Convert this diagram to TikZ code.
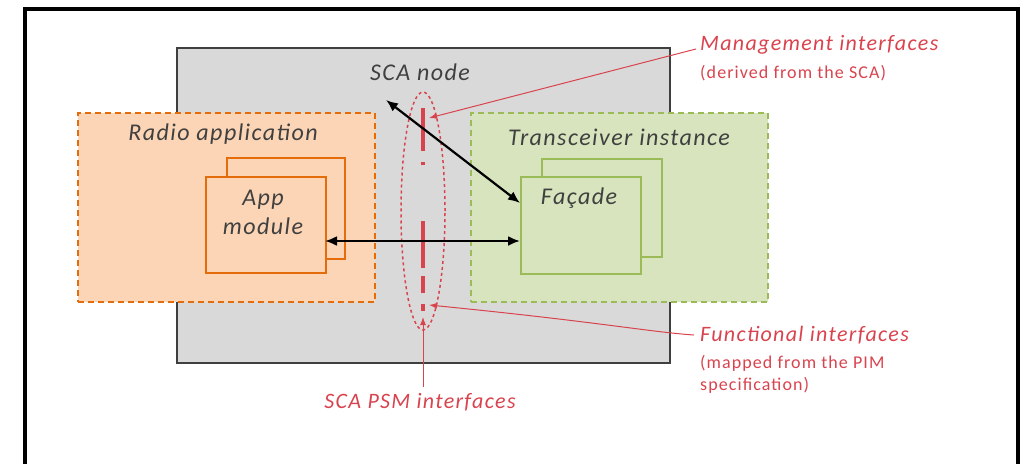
\documentclass[tikz,border=0pt]{standalone}
\usepackage{fontspec}
\setmainfont{Carlito}
\newfontfamily\labelfont[LetterSpace=6]{Carlito}
\usetikzlibrary{arrows.meta,shapes.geometric}
\definecolor{nodegray}{HTML}{D9D9D9}
\definecolor{nodeedge}{HTML}{3F3F3F}
\definecolor{appfill}{HTML}{FBD5B5}
\definecolor{appedge}{HTML}{E46C0A}
\definecolor{trxfill}{HTML}{D7E4BD}
\definecolor{trxedge}{HTML}{9BBB59}
\definecolor{note}{HTML}{D9434E}
\definecolor{ink}{HTML}{404040}
\tikzset{
  box/.style={draw, rectangle, inner sep=0pt, anchor=north west},
  groupbox/.style={box, dashed, dash pattern=on 6pt off 4pt, line width=2pt},
  modbox/.style={box, line width=1.6pt},
  title/.style={font=\labelfont\itshape\fontsize{24}{29}\selectfont, text=ink, inner sep=0pt},
  notetitle/.style={font=\labelfont\itshape\fontsize{22}{24}\selectfont, text=note, anchor=west, inner sep=0pt},
  notesub/.style={font=\labelfont\fontsize{18}{22}\selectfont, text=note, anchor=north west, inner sep=0pt, align=left},
  link/.style={line width=2.2pt, {Latex[length=12pt,width=10pt]}-{Latex[length=12pt,width=10pt]}},
  pointer/.style={draw=note, line width=1pt, -{Latex[length=8pt,width=6pt]}}
}
\begin{document}
\begin{tikzpicture}[x=1pt,y=-1pt]
\useasboundingbox (0,0) rectangle (1025,463);
% outer frame
\draw[line width=4pt] (25,9) rectangle (1018,480);
% SCA node
\node[box, fill=nodegray, draw=nodeedge, line width=2pt, minimum width=493pt, minimum height=315pt] (sca) at (176,47) {};
\node[title] (scalabel) at (420,72) {SCA node};
% radio application
\node[groupbox, fill=appfill, draw=appedge, minimum width=297pt, minimum height=189pt] (radio) at (77,112) {};
\node[title] (radiolabel) at (223,134) {Radio application};
\node[modbox, fill=appfill, draw=appedge, minimum width=118pt, minimum height=101pt] (appback) at (226,157) {};
\node[modbox, fill=appfill, draw=appedge, minimum width=120pt, minimum height=96pt] (app) at (205,176) {};
\node[title, align=center] (applabel) at (263,212) {App\\module};
% transceiver instance
\node[groupbox, fill=trxfill, draw=trxedge, minimum width=297pt, minimum height=189pt] (trx) at (470,112) {};
\node[title] (trxlabel) at (619,137) {Transceiver instance};
\node[modbox, fill=trxfill, draw=trxedge, minimum width=120pt, minimum height=98pt] (facback) at (541,158) {};
\node[modbox, fill=trxfill, draw=trxedge, minimum width=120pt, minimum height=97pt] (facade) at (520,176) {};
\node[title] (faclabel) at (579,198) {Façade};
% SCA PSM interfaces
\node[draw=note, dashed, dash pattern=on 3pt off 3pt, line width=1.5pt, ellipse, minimum width=44pt, minimum height=238pt, inner sep=0pt] (psm) at (423,211) {};
\draw[note, line width=3.5pt, dash pattern=on 43pt off 11pt on 3pt off 56pt on 47pt off 8pt on 17pt off 11pt on 7pt off 20pt] (psm.north) ++(0,17) -- ++(0,203);
% connectors
\coordinate (mgmttop) at (386,100);
\coordinate (mgmtend) at (520,203);
\draw[link] (mgmttop) -- (mgmtend);
\coordinate (funcL) at (325,241);
\coordinate (funcR) at (520,241);
\draw[link] (funcL) -- (funcR);
% annotations
\node[notetitle] (mgmt) at (700,45) {Management interfaces};
\node[notesub] (mgmtsub) at (700,65) {(derived from the SCA)};
\node[notetitle] (func) at (700,335) {Functional interfaces};
\node[notesub] (funcsub) at (700,355) {(mapped from the PIM\\specification)};
\node[font=\labelfont\itshape\fontsize{22}{24}\selectfont, text=note, inner sep=0pt] (psmlabel) at (420,402) {SCA PSM interfaces};
\coordinate (mgmthit) at (429,118);
\coordinate (funchit) at (429,305);
\coordinate (psmhit) at (423,317);
\draw[pointer] (mgmt.west) ++(-4,4) -- (mgmthit);
\draw[pointer] (func.west) ++(-6,0) .. controls (650,332) and (600,322) .. (funchit);
\draw[pointer] (psmlabel.north -| psmhit) ++(0,-6) -- (psmhit);
\end{tikzpicture}
\end{document}
